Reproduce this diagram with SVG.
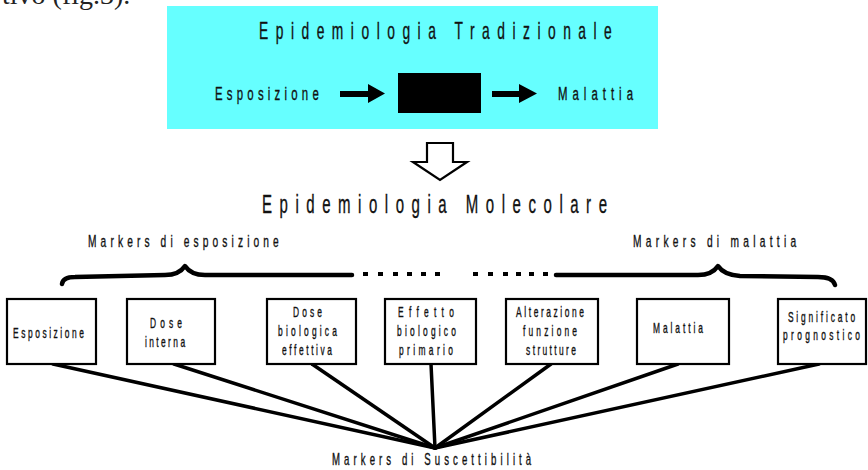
<svg xmlns="http://www.w3.org/2000/svg" width="868" height="470" viewBox="0 0 868 470">
  <style>
    .t { font-family: "Liberation Sans", Arial, sans-serif; fill: #111; stroke: #111; stroke-width: 0.35; }
    .serif { font-family: "Liberation Serif", "Times New Roman", serif; fill: #222; }
    .box { fill: #fff; stroke: #000; stroke-width: 2.2; }
    .link { stroke: #000; stroke-width: 3.5; stroke-linecap: round; fill: none; }
    .brace { stroke: #000; stroke-width: 4.5; stroke-linecap: round; stroke-linejoin: round; fill: none; }
    .dot { fill: #000; }
    .bt { font-size: 14px; text-anchor: middle; }
  </style>

  <!-- running text line above the figure -->
  <text class="serif" x="2" y="4" font-size="28">tivo (fig.3).</text>

  <!-- traditional epidemiology panel; condensed lettering = horizontally squeezed text -->
  <g id="tradizionale">
    <rect x="167" y="6" width="491" height="123" fill="#66ffff"/>
    <text class="t" transform="translate(259,39) scale(0.6,1)" font-size="23" textLength="588" lengthAdjust="spacing">Epidemiologia Tradizionale</text>
    <text class="t" transform="translate(215,100) scale(0.6,1)" font-size="19" textLength="173" lengthAdjust="spacing">Esposizione</text>
    <rect x="398" y="73" width="83" height="40" fill="#000"/>
    <text class="t" transform="translate(558,100) scale(0.6,1)" font-size="19" textLength="125" lengthAdjust="spacing">Malattia</text>
    <polygon points="340,91 368,91 368,84 385,93.5 368,103 368,97 340,97" fill="#000"/>
    <polygon points="492,91 519,91 519,84 537,93.5 519,103 519,97 492,97" fill="#000"/>
  </g>

  <!-- hollow transition arrow -->
  <g id="freccia">
    <polygon points="427,143 453,143 453,162 467,162 440,180 413,162 427,162" fill="#fff" stroke="#000" stroke-width="2.2" stroke-linejoin="miter"/>
  </g>

  <g id="molecolare">
    <text class="t" transform="translate(262,213) scale(0.6,1)" font-size="25" textLength="575" lengthAdjust="spacing">Epidemiologia Molecolare</text>
  </g>

  <!-- group labels and braces -->
  <g id="markers-esposizione">
    <text class="t" transform="translate(88,247) scale(0.6,1)" font-size="17" textLength="318" lengthAdjust="spacing">Markers di esposizione</text>
    <path class="brace" d="M62,284 Q63,277 75,277 L165,275 Q179,275 185,266 Q191,275 205,275 L352,275"/>
    <rect class="dot" x="363" y="272" width="5" height="4"/>
    <rect class="dot" x="378" y="272" width="5" height="4"/>
    <rect class="dot" x="393" y="272" width="5" height="4"/>
    <rect class="dot" x="407" y="272" width="5" height="4"/>
    <rect class="dot" x="421" y="272" width="5" height="4"/>
    <rect class="dot" x="435" y="272" width="5" height="4"/>
  </g>
  <g id="markers-malattia">
    <text class="t" transform="translate(633,247) scale(0.6,1)" font-size="17" textLength="272" lengthAdjust="spacing">Markers di malattia</text>
    <rect class="dot" x="473" y="272" width="5" height="4"/>
    <rect class="dot" x="488" y="272" width="5" height="4"/>
    <rect class="dot" x="503" y="272" width="5" height="4"/>
    <rect class="dot" x="516" y="272" width="5" height="4"/>
    <rect class="dot" x="529" y="272" width="5" height="4"/>
    <rect class="dot" x="543" y="272" width="5" height="4"/>
    <path class="brace" d="M556,275 L698,275 Q712,275 718,266 Q724,275 740,276 L818,277 Q833,277 835,285"/>
  </g>

  <!-- connectors to susceptibility markers -->
  <g id="connettori">
    <line class="link" x1="53" y1="364" x2="435" y2="448"/>
    <line class="link" x1="174" y1="364" x2="435" y2="448"/>
    <line class="link" x1="312" y1="364" x2="435" y2="448"/>
    <line class="link" x1="431" y1="364" x2="435" y2="448"/>
    <line class="link" x1="551" y1="364" x2="435" y2="448"/>
    <line class="link" x1="678" y1="364" x2="435" y2="448"/>
    <line class="link" x1="819" y1="364" x2="435" y2="448"/>
  </g>

  <g id="esposizione">
    <rect class="box" x="7" y="299" width="89" height="65"/>
    <text class="t bt" transform="translate(48.5,338) scale(0.6,1)" textLength="118" lengthAdjust="spacing">Esposizione</text>
  </g>
  <g id="dose-interna">
    <rect class="box" x="127" y="299" width="88" height="65"/>
    <text class="t bt" transform="translate(166,328) scale(0.6,1)" textLength="53" lengthAdjust="spacing">Dose</text>
    <text class="t bt" transform="translate(165,347) scale(0.6,1)" textLength="67" lengthAdjust="spacing">interna</text>
  </g>
  <g id="dose-biologica">
    <rect class="box" x="267" y="299" width="89" height="65"/>
    <text class="t bt" transform="translate(307.5,317) scale(0.6,1)" textLength="48" lengthAdjust="spacing">Dose</text>
    <text class="t bt" transform="translate(307.5,336) scale(0.6,1)" textLength="98" lengthAdjust="spacing">biologica</text>
    <text class="t bt" transform="translate(307,355) scale(0.6,1)" textLength="83" lengthAdjust="spacing">effettiva</text>
  </g>
  <g id="effetto-biologico">
    <rect class="box" x="385" y="299" width="91" height="65"/>
    <text class="t bt" transform="translate(426,317) scale(0.6,1)" textLength="93" lengthAdjust="spacing">Effetto</text>
    <text class="t bt" transform="translate(426.5,336) scale(0.6,1)" textLength="98" lengthAdjust="spacing">biologico</text>
    <text class="t bt" transform="translate(426,355) scale(0.6,1)" textLength="90" lengthAdjust="spacing">primario</text>
  </g>
  <g id="alterazione">
    <rect class="box" x="506" y="299" width="92" height="65"/>
    <text class="t bt" transform="translate(550,317) scale(0.6,1)" textLength="113" lengthAdjust="spacing">Alterazione</text>
    <text class="t bt" transform="translate(550,336) scale(0.6,1)" textLength="90" lengthAdjust="spacing">funzione</text>
    <text class="t bt" transform="translate(551,355) scale(0.6,1)" textLength="83" lengthAdjust="spacing">strutture</text>
  </g>
  <g id="malattia">
    <rect class="box" x="637" y="299" width="92" height="65"/>
    <text class="t bt" transform="translate(678,333) scale(0.6,1)" textLength="83" lengthAdjust="spacing">Malattia</text>
  </g>
  <g id="significato">
    <rect class="box" x="778" y="299" width="88" height="65"/>
    <text class="t bt" transform="translate(821.5,322) scale(0.6,1)" textLength="112" lengthAdjust="spacing">Significato</text>
    <text class="t bt" transform="translate(821.5,340) scale(0.6,1)" textLength="128" lengthAdjust="spacing">prognostico</text>
  </g>

  <g id="suscettibilita">
    <text class="t" transform="translate(332,465) scale(0.6,1)" font-size="16" textLength="332" lengthAdjust="spacing">Markers di Suscettibilità</text>
  </g>
</svg>
